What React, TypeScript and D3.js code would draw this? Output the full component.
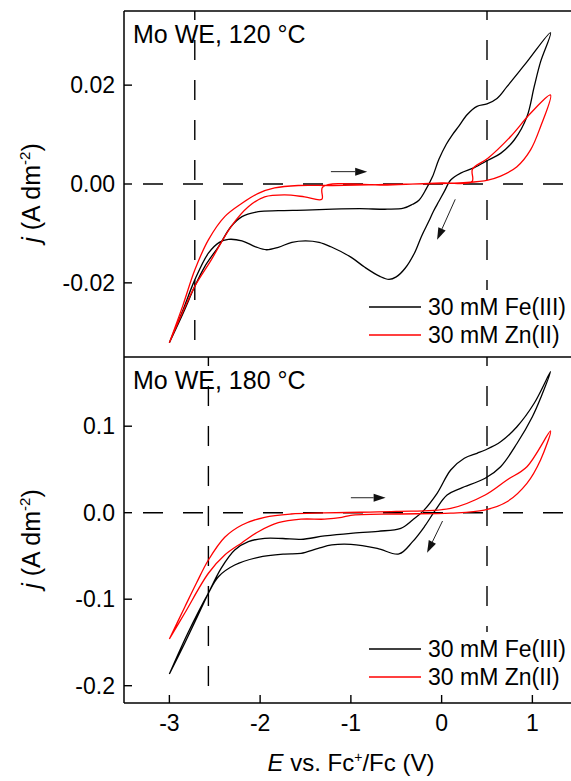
import React from 'react';
import * as d3 from 'd3';

type P = [number, number];

const xTicks = [-3, -2, -1, 0, 1];
const xTickLabels = ['-3', '-2', '-1', '0', '1'];
const topYTicks = [0.02, 0, -0.02];
const topYTickLabels = ['0.02', '0.00', '-0.02'];
const botYTicks = [0.1, 0, -0.1, -0.2];
const botYTickLabels = ['0.1', '0.0', '-0.1', '-0.2'];
const seriesNames = ['30 mM Fe(III)', '30 mM Zn(II)'];
const seriesColors = ['#000000', '#ff0000'];
const panelTitles = ['Mo WE, 120 °C', 'Mo WE, 180 °C'];
const topVLines = [-2.72, 0.5];
const botVLines = [-2.57, 0.5];

// 120 °C, Fe(III)
const topFe: P[] = [
  [-3.0, -0.0321], [-2.85, -0.0262], [-2.72, -0.0207], [-2.61, -0.0167], [-2.46, -0.0127],
  [-2.32, -0.0086], [-2.2, -0.0066], [-2.02, -0.0056], [-1.8, -0.0054], [-1.5, -0.0053],
  [-1.2, -0.0051], [-0.9, -0.005], [-0.6, -0.0051], [-0.42, -0.0049], [-0.32, -0.0041],
  [-0.25, -0.0033], [-0.17, -0.001], [-0.1, 0.0015], [-0.03, 0.005], [0.05, 0.008],
  [0.12, 0.01], [0.19, 0.0117], [0.28, 0.014], [0.39, 0.0157], [0.5, 0.0162],
  [0.61, 0.0173], [0.72, 0.0197], [0.94, 0.0247], [1.2, 0.0306],
  [1.09, 0.0247], [1.02, 0.0197], [0.94, 0.0136], [0.8, 0.0089], [0.65, 0.0062],
  [0.51, 0.0048], [0.36, 0.0033], [0.21, 0.0022], [0.1, 0.0008], [0.03, -0.0015],
  [-0.03, -0.0035], [-0.09, -0.0055], [-0.14, -0.0075], [-0.22, -0.0105], [-0.3, -0.014],
  [-0.4, -0.017], [-0.5, -0.0188], [-0.58, -0.0193], [-0.68, -0.0187], [-0.85, -0.0168],
  [-1.0, -0.0148], [-1.22, -0.0127], [-1.35, -0.0118], [-1.5, -0.0115], [-1.65, -0.0118],
  [-1.8, -0.0128], [-1.93, -0.0133], [-2.05, -0.0127], [-2.2, -0.0115], [-2.35, -0.0112],
  [-2.45, -0.0118], [-2.57, -0.014], [-2.72, -0.0194], [-2.85, -0.0255], [-3.0, -0.0321],
];

// 120 °C, Zn(II)
const topZn: P[] = [
  [-3.0, -0.0321], [-2.85, -0.0245], [-2.72, -0.0174], [-2.57, -0.0113], [-2.39, -0.0066],
  [-2.2, -0.0039], [-2.02, -0.0019], [-1.84, -0.0008], [-1.58, -0.0003], [-1.2, -0.0003],
  [-0.6, -0.0001], [0.0, 0.0001], [0.28, 0.0003], [0.51, 0.0008], [0.65, 0.0016],
  [0.83, 0.0035], [0.98, 0.0069], [1.09, 0.0116], [1.2, 0.018],
  [0.98, 0.0143], [0.76, 0.0096], [0.51, 0.0052], [0.34, 0.003], [0.335, 0.0005],
  [0.0, 0.0002], [-0.6, -0.0002], [-1.31, -0.0006], [-1.32, -0.0031], [-1.51, -0.0026],
  [-1.73, -0.0022], [-1.95, -0.0026], [-2.13, -0.0046], [-2.32, -0.0086], [-2.54, -0.0154],
  [-2.72, -0.0207], [-2.85, -0.0258], [-3.0, -0.0321],
];

// 180 °C, Fe(III)
const botFe: P[] = [
  [-3.0, -0.1865], [-2.85, -0.155], [-2.7, -0.122], [-2.57, -0.093], [-2.43, -0.0643],
  [-2.28, -0.0431], [-2.13, -0.0335], [-1.95, -0.0296], [-1.75, -0.0298], [-1.55, -0.0308],
  [-1.29, -0.0269], [-1.0, -0.0238], [-0.7, -0.0215], [-0.45, -0.018], [-0.32, -0.0084],
  [-0.21, 0.0012], [-0.05, 0.0224], [0.1, 0.0494], [0.25, 0.0629], [0.39, 0.0687],
  [0.48, 0.0725], [0.65, 0.082], [0.83, 0.0994], [1.02, 0.1265], [1.2, 0.163],
  [1.1, 0.135], [1.0, 0.111], [0.83, 0.08], [0.65, 0.0532], [0.48, 0.0398],
  [0.21, 0.0282], [0.06, 0.0205], [-0.08, 0.0012], [-0.19, -0.0162], [-0.32, -0.0335],
  [-0.47, -0.0477], [-0.71, -0.0412], [-1.0, -0.0366], [-1.21, -0.0373], [-1.36, -0.0412],
  [-1.55, -0.047], [-1.73, -0.0478], [-2.02, -0.0516], [-2.28, -0.0605], [-2.46, -0.074],
  [-2.57, -0.093], [-2.8, -0.14], [-3.0, -0.1865],
];

// 180 °C, Zn(II)
const botZn: P[] = [
  [-3.0, -0.146], [-2.83, -0.109], [-2.7, -0.081], [-2.57, -0.0547], [-2.39, -0.0284],
  [-2.2, -0.0142], [-1.95, -0.0053], [-1.66, -0.0015], [-1.3, -0.0003], [-0.9, 0.0005],
  [-0.5, 0.0015], [0.1, 0.005], [0.48, 0.0205], [0.72, 0.0378], [0.94, 0.0532], [1.2, 0.0945],
  [1.09, 0.061], [0.94, 0.034], [0.72, 0.0127], [0.47, 0.003], [0.1, -0.0005],
  [-0.5, -0.0015], [-1.0, -0.003], [-1.1, -0.0055], [-1.29, -0.0075], [-1.55, -0.0075],
  [-1.8, -0.0116], [-2.02, -0.022], [-2.2, -0.0347], [-2.39, -0.0489], [-2.57, -0.07],
  [-2.83, -0.116], [-3.0, -0.146],
];

// scan-direction arrows: [x1, y1, x2, y2] in data units
const topArrows = [[-1.22, 0.0025, -0.82, 0.0025], [0.15, -0.0031, -0.05, -0.0113]];
const botArrows = [[-1.0, 0.0173, -0.617, 0.0173], [0.01, -0.0096, -0.16, -0.0462]];

const FONT = '"Liberation Sans", Arial, sans-serif';

function Panel({ yScale, x, top, bottom, left, right, fe, zn, yTicks, yLabels, vLines, arrows, title, legendY, showX }: any) {
  const line = d3.line<P>().x(d => x(d[0])).y(d => yScale(d[1])).curve(d3.curveCatmullRom.alpha(0.5));
  const series = [fe, zn];
  const yMid = (top + bottom) / 2 + 9;
  return (
    <g>
      {/* reference dashed lines */}
      <line x1={left} x2={right} y1={yScale(0)} y2={yScale(0)} stroke="#000" strokeWidth={1.4} strokeDasharray="20,20" strokeDashoffset={-19} />
      {vLines.map((v: number, i: number) => (
        <line key={i} x1={x(v)} x2={x(v)} y1={top} y2={bottom} stroke="#000" strokeWidth={1.4} strokeDasharray="20,20" strokeDashoffset={-29} />
      ))}
      {series.map((s: P[], i: number) => (
        <path key={i} d={line(s) || ''} fill="none" stroke={seriesColors[i]} strokeWidth={1.3} strokeLinejoin="round" />
      ))}
      {arrows.map((a: number[], i: number) => {
        const x1 = x(a[0]), y1 = yScale(a[1]), x2 = x(a[2]), y2 = yScale(a[3]);
        const ang = Math.atan2(y2 - y1, x2 - x1);
        const L = 12, Wd = 4;
        const bx = x2 - L * Math.cos(ang), by = y2 - L * Math.sin(ang);
        const px = -Math.sin(ang) * Wd, py = Math.cos(ang) * Wd;
        return (
          <g key={i}>
            <line x1={x1} y1={y1} x2={bx} y2={by} stroke="#222" strokeWidth={1} />
            <path d={`M${x2},${y2}L${bx + px},${by + py}L${bx - px},${by - py}Z`} fill="#111" />
          </g>
        );
      })}
      {/* y axis ticks */}
      {yTicks.map((t: number, i: number) => (
        <g key={i}>
          <line x1={left} x2={left + 8} y1={yScale(t)} y2={yScale(t)} stroke="#000" strokeWidth={1.4} />
          <text x={left - 9} y={yScale(t)} dy="0.36em" textAnchor="end" fontSize={23} fontFamily={FONT}>{yLabels[i]}</text>
        </g>
      ))}
      {showX && xTicks.map((t, i) => (
        <g key={i}>
          <line x1={x(t)} x2={x(t)} y1={bottom} y2={bottom - 8} stroke="#000" strokeWidth={1.4} />
          <text x={x(t)} y={bottom + 28} textAnchor="middle" fontSize={23} fontFamily={FONT}>{xTickLabels[i]}</text>
        </g>
      ))}
      <text x={133} y={top + 32} fontSize={25} fontFamily={FONT}>{title}</text>
      {/* legend */}
      <rect x={362} y={legendY - 17} width={220} height={62} fill="#fff" />
      {seriesNames.map((n, i) => (
        <g key={i}>
          <line x1={369} x2={421} y1={legendY + i * 28} y2={legendY + i * 28} stroke={seriesColors[i]} strokeWidth={1.3} />
          <text x={428} y={legendY + i * 28} dy="0.36em" fontSize={23} fontFamily={FONT}>{n}</text>
        </g>
      ))}
      {/* y label */}
      <text transform={`translate(40,${yMid}) rotate(-90)`} textAnchor="middle" fontSize={25} fontFamily={FONT}>
        <tspan fontStyle="italic">j</tspan>
        <tspan> (A dm</tspan>
        <tspan dy={-10} fontSize={15}>-2</tspan>
        <tspan dy={10}>)</tspan>
      </text>
    </g>
  );
}

export default function App() {
  const W = 571, H = 781;
  const left = 124, top = 11, mid = 357, bottom = 703;
  const x = d3.scaleLinear().domain([-3.5, 1.5]).range([left, left + 453.75]);
  const right = x(1.5);
  const yTop = d3.scaleLinear().domain([-0.035, 0.035]).range([mid, top]);
  const yBot = d3.scaleLinear().domain([-0.22, 0.18]).range([bottom, mid]);
  return (
    <svg width={W} height={H} style={{ position: 'absolute', left: 0, top: 0, background: '#fff' }}>
      <rect x={0} y={0} width={W} height={H} fill="#fff" />
      <Panel yScale={yTop} x={x} top={top} bottom={mid} left={left} right={right} fe={topFe} zn={topZn}
        yTicks={topYTicks} yLabels={topYTickLabels} vLines={topVLines} arrows={topArrows} title={panelTitles[0]} legendY={307} showX={false} />
      <Panel yScale={yBot} x={x} top={mid} bottom={bottom} left={left} right={right} fe={botFe} zn={botZn}
        yTicks={botYTicks} yLabels={botYTickLabels} vLines={botVLines} arrows={botArrows} title={panelTitles[1]} legendY={649} showX={true} />
      {/* frame */}
      <line x1={left} x2={right} y1={top} y2={top} stroke="#000" strokeWidth={1.5} />
      <line x1={left} x2={right} y1={mid} y2={mid} stroke="#000" strokeWidth={1.5} />
      <line x1={left} x2={right} y1={bottom} y2={bottom} stroke="#000" strokeWidth={1.5} />
      <line x1={left} x2={left} y1={top} y2={bottom} stroke="#000" strokeWidth={1.5} />
      {/* x label */}
      <text x={351} y={771} textAnchor="middle" fontSize={24} fontFamily={FONT}>
        <tspan fontStyle="italic">E</tspan>
        <tspan> vs. Fc</tspan>
        <tspan dy={-9} fontSize={14}>+</tspan>
        <tspan dy={9}>/Fc (V)</tspan>
      </text>
    </svg>
  );
}
